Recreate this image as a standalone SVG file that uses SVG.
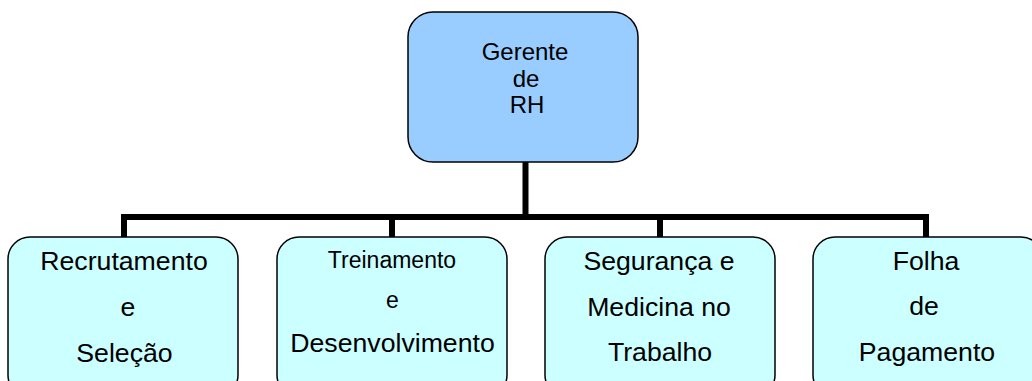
<svg xmlns="http://www.w3.org/2000/svg" width="1032" height="381" viewBox="0 0 1032 381">
<style>
.top{fill:#99CCFF;stroke:#000;stroke-width:1.5}
.box{fill:#CCFFFF;stroke:#000;stroke-width:1.5}
text{font-family:"Liberation Sans",Arial,sans-serif;fill:#000;text-anchor:middle}
.t24{font-size:24px}
.t26{font-size:26.67px}
.t23{font-size:23px}
.conn{fill:none;stroke:#000;stroke-width:6;stroke-linejoin:miter;stroke-linecap:butt}
</style>
<rect width="1032" height="381" fill="#fff"/>
<g id="connectors">
<path class="conn" d="M525.5 162 V217"/>
<path class="conn" d="M124 237 V217 H926 V237"/>
<path class="conn" d="M392 217 V237"/>
<path class="conn" d="M660 217 V237"/>
</g>
<g id="gerente">
<rect class="top" x="408" y="12" width="230" height="150" rx="25"/>
<text class="t24" x="525" y="60">Gerente</text>
<text class="t24" x="526" y="86.5">de</text>
<text class="t24" x="527" y="113">RH</text>
</g>
<g id="recrutamento">
<rect class="box" x="8" y="237" width="230" height="160" rx="22"/>
<text class="t26" x="124" y="270">Recrutamento</text>
<text class="t26" x="128" y="316">e</text>
<text class="t26" x="124.5" y="362">Seleção</text>
</g>
<g id="treinamento">
<rect class="box" x="277" y="237" width="230" height="160" rx="22"/>
<text class="t23" x="392" y="268">Treinamento</text>
<text class="t23" x="392.5" y="308">e</text>
<text class="t26" x="392.5" y="352">Desenvolvimento</text>
</g>
<g id="seguranca">
<rect class="box" x="545" y="237" width="230" height="160" rx="22"/>
<text class="t26" x="659" y="270">Segurança e</text>
<text class="t26" x="659" y="316">Medicina no</text>
<text class="t26" x="660" y="361">Trabalho</text>
</g>
<g id="folha">
<rect class="box" x="813" y="237" width="230" height="160" rx="22"/>
<text class="t26" x="926" y="270">Folha</text>
<text class="t26" x="924" y="315">de</text>
<text class="t26" x="927" y="361">Pagamento</text>
</g>
</svg>
